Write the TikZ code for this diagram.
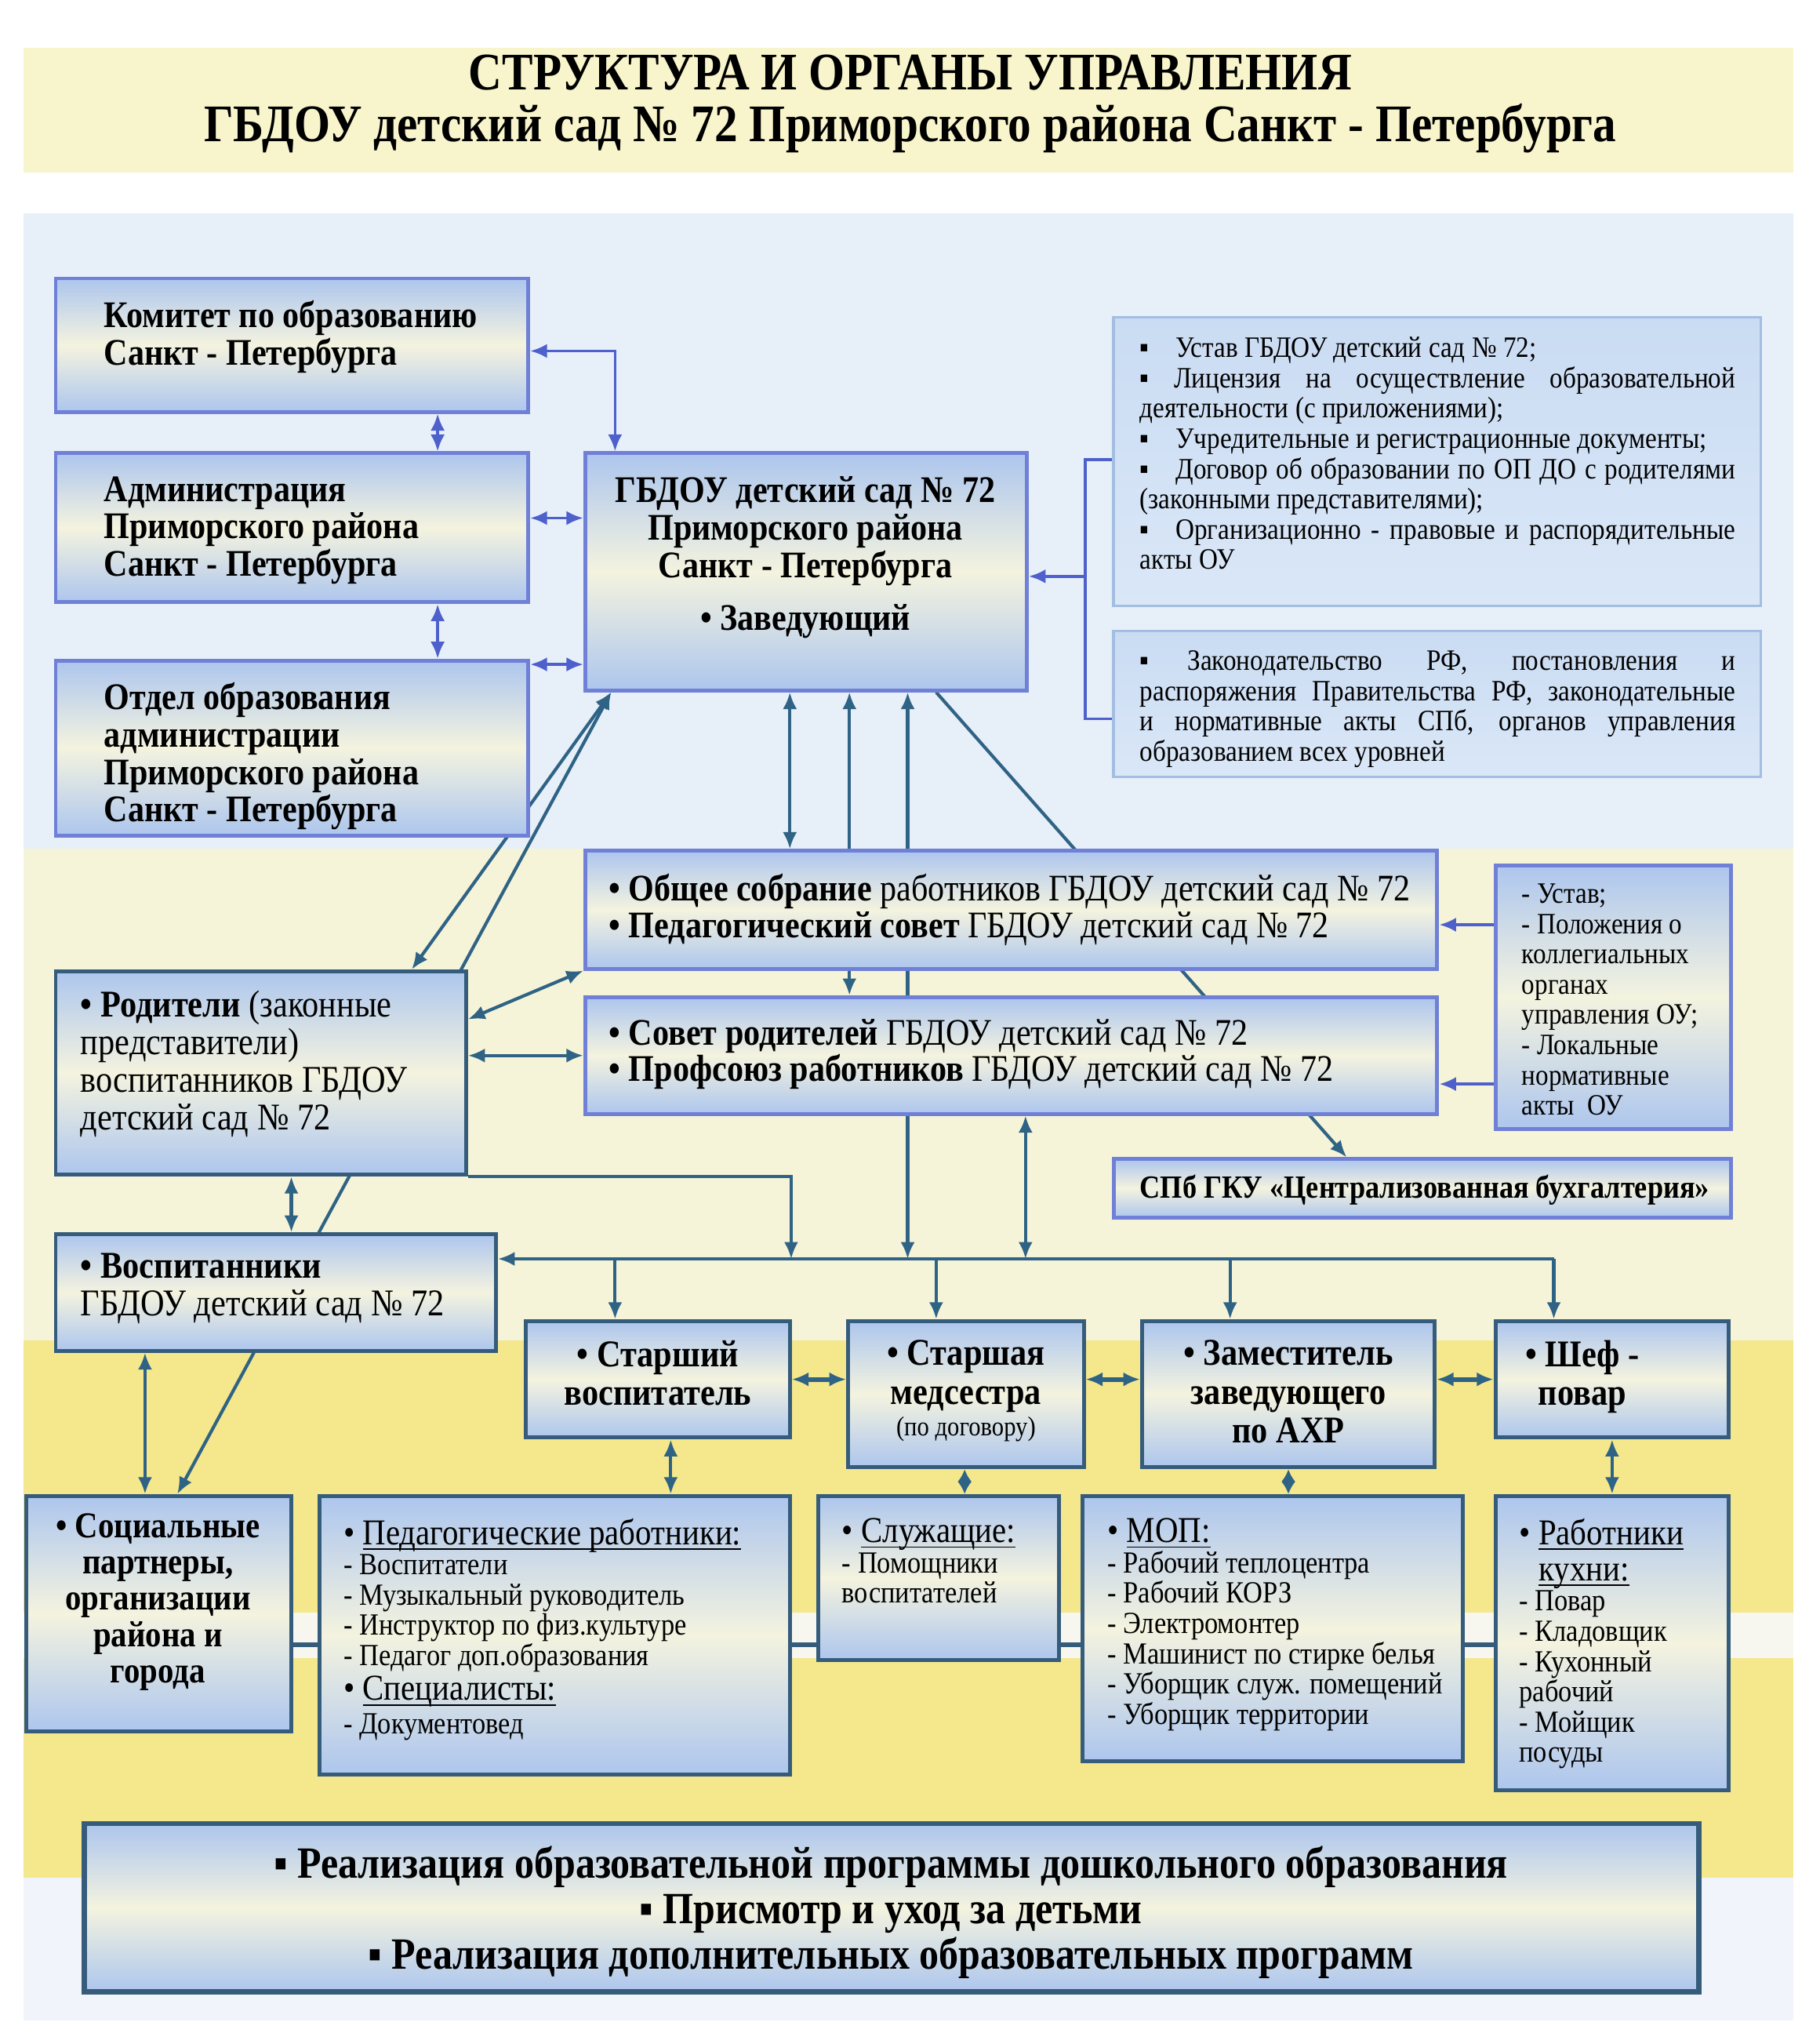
\documentclass[tikz,border=0pt]{standalone}
\usepackage{fontspec}
\setmainfont[FakeStretch=0.88]{Liberation Serif}
\usetikzlibrary{arrows.meta,fit,calc}
\pgfdeclarelayer{back}
\pgfdeclarelayer{conn}
\pgfsetlayers{back,conn,main}
\definecolor{ubord}{HTML}{6F80D6}
\definecolor{lbord}{HTML}{365C7C}
\definecolor{uarr}{HTML}{4E60CC}
\definecolor{larr}{HTML}{2F6385}
\definecolor{bxb}{HTML}{ADC6EE}
\definecolor{bxm}{HTML}{F4F3DF}
\definecolor{dtop}{HTML}{CADCF3}
\definecolor{dbot}{HTML}{DAE7F7}
\definecolor{dbord}{HTML}{A3BEE2}
\definecolor{bgtitle}{HTML}{F8F4CB}
\definecolor{bgblue}{HTML}{E7EFF8}
\definecolor{bgpale}{HTML}{F6F4D8}
\definecolor{bgyel}{HTML}{F4E78C}
\definecolor{bgwhite}{HTML}{F7F7EF}
\newcommand\myfs[2]{\fontsize{#1}{#2}\selectfont}
\newcommand\tightlines{\lineskiplimit=-100pt\relax}
\newsavebox\ulbox
\newcommand\myul[1]{\sbox\ulbox{#1}\rlap{\rule[-2.3pt]{\wd\ulbox}{0.6pt}}\usebox\ulbox}
\begin{document}
\begin{tikzpicture}[x=0.2mm, y=-0.2mm,
  >={Latex[length=2.6mm,width=2.2mm]},
  box/.style={draw, inner sep=0pt, line width=0.6mm, top color=bxb, bottom color=bxb, middle color=bxm},
  ubox/.style={box, draw=ubord},
  lbox/.style={box, draw=lbord},
  dbox/.style={draw=dbord, line width=0.4mm, inner sep=0pt, top color=dtop, bottom color=dbot},
  txt/.style={inner sep=0pt, anchor=north west, align=left},
  ctxt/.style={inner sep=0pt, anchor=north, align=center},
  ua/.style={draw=uarr, line width=0.45mm},
  la/.style={draw=larr, line width=0.5mm},
  lc/.style={draw=lbord, line width=0.8mm},
  shorttip/.style={>={Latex[length=1.9mm,width=2.2mm]}},
  smalltxt/.style={txt, font={\myfs{13.5}{13.3}\tightlines}}
]
\useasboundingbox (0,0) rectangle (1405,1569.7);
\begin{pgfonlayer}{back}
\fill[white] (0,0) rectangle (1405,1569.7);
\fill[bgtitle] (18,37) rectangle (1385,133);
\fill[bgblue] (18,165) rectangle (1385,655);
\fill[bgpale] (18,655) rectangle (1385,1035);
\fill[bgyel] (18,1035) rectangle (1385,1450);
\fill[bgwhite] (18,1245) rectangle (1385,1280);
\fill[bgblue!60!white] (18,1450) rectangle (1385,1560);
\end{pgfonlayer}

% title
\node[ctxt, font=\myfs{23.2}{22.8}\bfseries] (title) at (703,42) {СТРУКТУРА И ОРГАНЫ УПРАВЛЕНИЯ\\ГБДОУ детский сад № 72 Приморского района Санкт - Петербурга};

% boxes
\node[ubox, fit={(43,215) (408,318)}] (kom) {};
\node[ubox, fit={(43,350) (408,465)}] (adm) {};
\node[ubox, fit={(43,510) (408,645)}] (otd) {};
\node[ubox, fit={(452,350) (793,533)}] (gb) {};
\node[dbox, fit={(860,245) (1360,468)}] (doc1) {};
\node[dbox, fit={(860,487) (1360,600)}] (doc2) {};
\node[ubox, fit={(452,657) (1110,748)}] (ob) {};
\node[ubox, fit={(452,770) (1110,860)}] (sov) {};
\node[ubox, fit={(1155,668) (1337,872)}] (ust) {};
\node[ubox, fit={(860,895) (1337,940)}] (spb) {};
\node[lbox, fit={(43,750) (360,907)}] (rod) {};
\node[lbox, fit={(43,953) (383,1043)}] (voc) {};
\node[lbox, fit={(406,1020) (610,1110)}] (sv) {};
\node[lbox, fit={(655,1020) (837,1133)}] (ms) {};
\node[lbox, fit={(882,1020) (1108,1133)}] (zam) {};
\node[lbox, fit={(1155,1020) (1335,1110)}] (shef) {};
\node[lbox, fit={(20,1155) (225,1337)}] (soc) {};
\node[lbox, fit={(247,1155) (610,1370)}] (ped) {};
\node[lbox, fit={(632,1155) (818,1282)}] (slu) {};
\node[lbox, fit={(836,1155) (1130,1360)}] (mop) {};
\node[lbox, fit={(1155,1155) (1335,1382)}] (kux) {};
\node[lbox, line width=0.8mm, fit={(65,1408) (1312,1538)}] (ban) {};

% texts
\node[txt, font=\myfs{16.5}{16.5}\bfseries] (komt) at (80,231.5) {Комитет по образованию\\Санкт - Петербурга};
\node[txt, font=\myfs{16.5}{16.5}\bfseries] (admt) at (80,367.5) {Администрация\\Приморского района\\Санкт - Петербурга};
\node[txt, font=\myfs{16.5}{16.5}\bfseries] (otdt) at (80,526.5) {Отдел образования\\администрации\\Приморского района\\Санкт - Петербурга};
\node[ctxt, font=\myfs{16.5}{16.5}\bfseries] (gbt) at (622,367.5) {ГБДОУ детский сад № 72\\Приморского района\\Санкт - Петербурга\\[6.8pt]• Заведующий};

\node[inner sep=0pt, anchor=north west, text width=92mm, align=justify, font=\myfs{13}{13.3}] (doc1t) at (880,260) {\setlength{\parindent}{0pt}%
▪\hspace{0.9em}Устав ГБДОУ детский сад № 72;\par
▪ Лицензия на осуществление образовательной\linebreak деятельности (с приложениями);\par
▪\hspace{0.9em}Учредительные и регистрационные документы;\par
▪\hspace{0.9em}Договор об образовании по ОП ДО с родителями\linebreak (законными представителями);\par
▪\hspace{0.9em}Организационно - правовые и распорядительные\linebreak акты ОУ\par};
\node[inner sep=0pt, anchor=north west, text width=92mm, align=justify, font=\myfs{13}{13.3}] (doc2t) at (880,502) {\setlength{\parindent}{0pt}%
▪\hspace{1.3em}Законодательство РФ, постановления и\linebreak распоряжения Правительства РФ, законодательные\linebreak и нормативные акты СПб, органов управления\linebreak образованием всех уровней\par};

\node[txt, font=\myfs{16.5}{16}] (obt) at (470,674.6) {{\bfseries • Общее собрание} работников ГБДОУ детский сад № 72\\{\bfseries • Педагогический совет} ГБДОУ детский сад № 72};
\node[txt, font=\myfs{16.5}{16}] (sovt) at (470,786.6) {{\bfseries • Совет родителей} ГБДОУ детский сад № 72\\{\bfseries • Профсоюз работников} ГБДОУ детский сад № 72};
\node[txt, font=\myfs{13}{13.3}] (ustt) at (1175,682) {- Устав;\\- Положения о\\коллегиальных\\органах\\управления ОУ;\\- Локальные\\нормативные\\акты~ ОУ};
\node[inner sep=0pt, anchor=west, font=\myfs{14.2}{15}\bfseries] (spbt) at (880,919) {СПб ГКУ «Централизованная бухгалтерия»};

\node[txt, font=\myfs{16.6}{16.5}] (rodt) at (62,764.5) {{\bfseries •} \textbf{Родители} (законные\\представители)\\воспитанников ГБДОУ\\детский сад № 72};
\node[txt, font=\myfs{16.6}{16.5}] (voct) at (62,967.5) {{\bfseries •} \textbf{Воспитанники}\\ГБДОУ детский сад № 72};

\node[ctxt, font=\myfs{16.6}{17}\bfseries] (svt) at (508,1034.5) {• Старший\\воспитатель};
\node[ctxt, font=\myfs{16.6}{17}\bfseries] (mst) at (746,1034.5) {• Старшая\\медсестра\\[-3pt]{\myfs{12}{12}\mdseries (по договору)}};
\node[ctxt, font=\myfs{16.6}{17}\bfseries] (zamt) at (995,1034.5) {• Заместитель\\заведующего\\по АХР};
\node[ctxt, font=\myfs{16.6}{17}\bfseries] (sheft) at (1222,1034.5) {• Шеф -\\повар};

\node[ctxt, font=\myfs{16}{16}\bfseries] (soct) at (122,1168) {• Социальные\\партнеры,\\организации\\района и\\города};
\node[smalltxt] (pedt) at (265,1172) {{\myfs{16}{13.3}• \myul{Педагогические работники:}}\\- Воспитатели\\- Музыкальный руководитель\\- Инструктор по физ.культуре\\- Педагог доп.образования\\[2pt]{\myfs{16}{13.3}• \myul{Специалисты:}}\\[1.5pt]- Документовед};
\node[smalltxt] (slut) at (650,1172) {{\myfs{16}{13.3}• \myul{Служащие:}}\\- Помощники\\воспитателей};
\node[smalltxt] (mopt) at (855,1172) {{\myfs{16}{13.3}• \myul{МОП:}}\\- Рабочий теплоцентра\\- Рабочий КОРЗ\\- Электромонтер\\- Машинист по стирке белья\\- Уборщик служ. помещений\\- Уборщик территории};
\node[smalltxt] (kuxt) at (1173,1172) {{\myfs{16}{13.3}• \myul{Работники}}\\[2.6pt]{\myfs{16}{13.3}\hspace{3mm}\myul{кухни:}}\\- Повар\\- Кладовщик\\- Кухонный\\рабочий\\- Мойщик\\посуды};

\node[ctxt, font=\myfs{19.6}{20}\bfseries] (bant) at (688,1425) {▪ Реализация образовательной программы дошкольного образования\\▪ Присмотр и уход за детьми\\▪ Реализация дополнительных образовательных программ};

% connectors
\begin{pgfonlayer}{conn}
\draw[ua,<->] (gb.north -| 475,0) |- (kom.east |- 0,271);
\draw[ua,<->] (kom.south -| 338,0) -- (adm.north -| 338,0);
\draw[ua,<->] (adm.south -| 338,0) -- (otd.north -| 338,0);
\draw[ua,<->] (adm.east |- 0,400) -- (gb.west |- 0,400);
\draw[ua,<->] (otd.east |- 0,513) -- (gb.west |- 0,513);
\coordinate (brk) at (838,445);
\draw[ua] (doc1.west |- 0,355) -| (brk) |- (doc2.west |- 0,555);
\draw[ua,->] (brk) -- (gb.east |- brk);
\draw[ua,->] (ust.west |- 0,714) -- (ob.east |- 0,714);
\draw[ua,->] (ust.west |- 0,837) -- (sov.east |- 0,837);

\coordinate (busL) at (voc.east |- 0,972);
\coordinate (busR) at (1200,972);
\draw[la,<->] (gb.south -| 610,0) -- (ob.north -| 610,0);
\draw[la,<->] (gb.south -| 656,0) -- (sov.north -| 656,0);
\draw[la,<->] (gb.south -| 701,0) -- (busL -| 701,0);
\draw[la,<->] (sov.south -| 792,0) -- (busL -| 792,0);
\draw[la,->] (rod.south east) -| (busL -| 611,0);
\draw[la,->] (busR) -- (busL);
\draw[la,->] (busL -| 475,0) -- (sv.north -| 475,0);
\draw[la,->] (busL -| 723,0) -- (ms.north -| 723,0);
\draw[la,->] (busL -| 950,0) -- (zam.north -| 950,0);
\draw[la,->] (busR) -- (shef.north -| busR);
\draw[la,<->] (rod.east |- 0,787) -- (ob.south west);
\draw[la,<->] (rod.east |- 0,815) -- (sov.west |- 0,815);
\draw[la,<->] (rod.south -| 225,0) -- (voc.north -| 225,0);
\draw[la,<->] (voc.south -| 112,0) -- (soc.north -| 112,0);
\draw[la,<->] (gb.south -| 472,0) -- (rod.north -| 318,0);
\draw[la,<->] (gb.south -| 472,0) -- (soc.north -| 137,0);
\draw[la,->] (gb.south -| 723,0) -- (spb.north -| 1040,0);
\draw[la,<->,line width=0.7mm] (sv.east |- 0,1065) -- (ms.west |- 0,1065);
\draw[la,<->,line width=0.7mm] (ms.east |- 0,1065) -- (zam.west |- 0,1065);
\draw[la,<->,line width=0.7mm] (zam.east |- 0,1065) -- (shef.west |- 0,1065);
\draw[la,<->] (sv.south -| 518,0) -- (ped.north -| 518,0);
\draw[la,<->,shorttip] (ms.south -| 745,0) -- (slu.north -| 745,0);
\draw[la,<->,shorttip] (zam.south -| 995,0) -- (mop.north -| 995,0);
\draw[la,<->] (shef.south -| 1245,0) -- (kux.north -| 1245,0);
\draw[lc] (soc.east |- 0,1270) -- (ped.west |- 0,1270);
\draw[lc] (ped.east |- 0,1270) -- (slu.west |- 0,1270);
\draw[lc] (slu.east |- 0,1270) -- (mop.west |- 0,1270);
\draw[lc] (mop.east |- 0,1270) -- (kux.west |- 0,1270);
\end{pgfonlayer}
\end{tikzpicture}
\end{document}
